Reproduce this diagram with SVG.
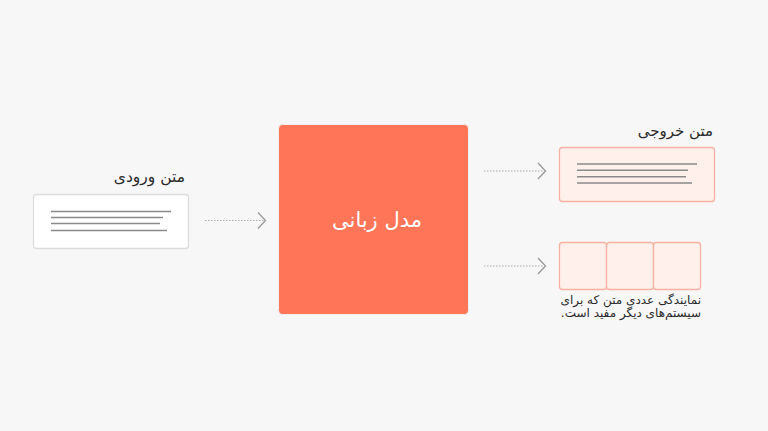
<svg xmlns="http://www.w3.org/2000/svg" width="768" height="431" viewBox="0 0 768 431">
<defs>
<style>
.t{font-family:"DejaVu Sans","Noto Sans",sans-serif;fill:#2a2a2a}
.ln{stroke:#8a8a8a;stroke-width:1.6}
.dot{stroke:#aaa;stroke-width:1.2;stroke-dasharray:1.5 1.5;fill:none}
.chev{stroke:#999;stroke-width:1.3;fill:none}
.cell{fill:#fff0ec;stroke:#f7b1a1;stroke-width:1.3}
</style>
</defs>
<rect width="768" height="431" fill="#f7f7f7"/>
<g id="connectors">
<line class="dot" x1="205" y1="220.5" x2="264" y2="220.5"/>
<polyline class="chev" points="258,212.5 265.5,220.5 258,228.5"/>
<line class="dot" x1="484" y1="171" x2="544" y2="171"/>
<polyline class="chev" points="538,163 545.5,171 538,179"/>
<line class="dot" x1="484" y1="266" x2="544" y2="266"/>
<polyline class="chev" points="538,258 545.5,266 538,274"/>
</g>
<g id="input">
<text class="t" x="185" y="182" font-size="15.5" direction="rtl" text-anchor="start">متن ورودی</text>
<rect x="33.5" y="194.5" width="155" height="54" rx="3" fill="#fff" stroke="#dcdcdc" stroke-width="1.3"/>
<line class="ln" x1="51" y1="211.5" x2="171" y2="211.5"/>
<line class="ln" x1="51" y1="217.5" x2="163" y2="217.5"/>
<line class="ln" x1="51" y1="223.5" x2="160" y2="223.5"/>
<line class="ln" x1="51" y1="230.5" x2="167" y2="230.5"/>
</g>
<g id="model">
<rect x="278.5" y="124.5" width="190" height="190" rx="4" fill="#ff7557" stroke="#f0f0f0" stroke-width="1"/>
<text x="377" y="227" font-size="21" fill="#fff" font-family="DejaVu Sans,sans-serif" direction="rtl" text-anchor="middle">مدل زبانی</text>
</g>
<g id="output-text">
<text class="t" x="713" y="136" font-size="15" direction="rtl" text-anchor="start">متن خروجی</text>
<rect x="559.5" y="147.5" width="155" height="54" rx="3" fill="#fff0ec" stroke="#f7b1a1" stroke-width="1.3"/>
<line class="ln" x1="577" y1="164" x2="697" y2="164"/>
<line class="ln" x1="577" y1="170.3" x2="688" y2="170.3"/>
<line class="ln" x1="577" y1="176.7" x2="686" y2="176.7"/>
<line class="ln" x1="577" y1="183" x2="692" y2="183"/>
</g>
<g id="output-vector">
<rect class="cell" x="559.5" y="242.5" width="47" height="47" rx="3"/>
<rect class="cell" x="606.5" y="242.5" width="47" height="47" rx="3"/>
<rect class="cell" x="653.5" y="242.5" width="47" height="47" rx="3"/>
<text class="t" x="701" y="304" font-size="12" direction="rtl" text-anchor="start">نمایندگی عددی متن که برای</text>
<text class="t" x="701" y="317" font-size="12" direction="rtl" text-anchor="start">سیستم‌های دیگر مفید است.</text>
</g>
</svg>
